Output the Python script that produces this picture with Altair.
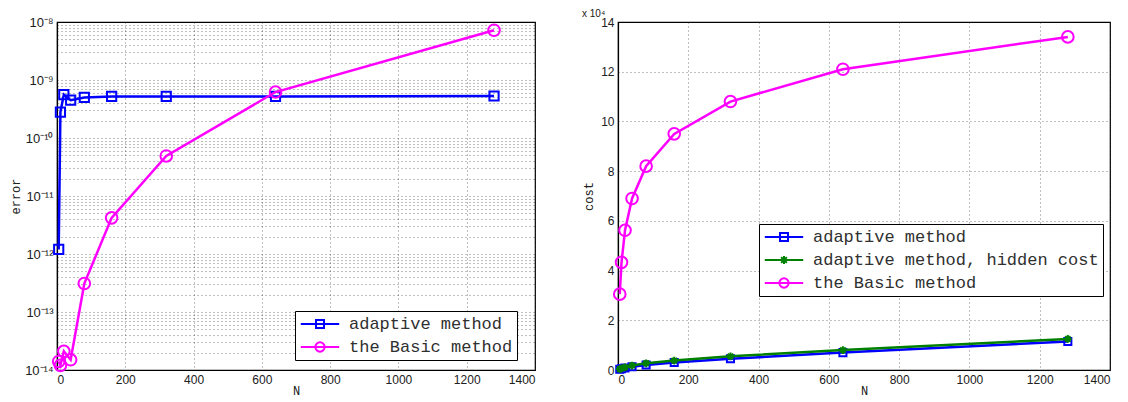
import altair as alt
import pandas as pd

# ---------------- data ----------------
N = [5, 10, 20, 40, 80, 160, 320, 640, 1280]

err_adaptive = [1.2e-12, 2.8e-10, 5.6e-10, 4.5e-10, 5.0e-10, 5.2e-10, 5.2e-10, 5.2e-10, 5.3e-10]
err_basic = [1.4e-14, 1.2e-14, 2.1e-14, 1.5e-14, 3.1e-13, 4.2e-12, 4.9e-11, 6.2e-10, 7.2e-9]

cost_adaptive = [300, 500, 800, 1300, 2000, 3000, 4500, 7000, 11500]
cost_hidden = [400, 700, 1100, 1800, 2700, 3800, 5500, 8000, 12500]
cost_basic = [30500, 43300, 56200, 69000, 82000, 95000, 108000, 121000, 134000]

left_series = ["adaptive method", "the Basic method"]
left_colors = ["#0000ff", "#ff00ff"]
right_series = ["adaptive method", "adaptive method, hidden cost", "the Basic method"]
right_colors = ["#0000ff", "#008000", "#ff00ff"]

x_ticks = [0, 200, 400, 600, 800, 1000, 1200, 1400]
err_decades = [1e-14, 1e-13, 1e-12, 1e-11, 1e-10, 1e-9, 1e-8]
err_decade_labels = ["10⁻¹⁴", "10⁻¹³", "10⁻¹²", "10⁻¹¹", "10⁻¹⁰", "10⁻⁹", "10⁻⁸"]
err_minor = [k * d for d in err_decades[:-1] for k in range(2, 10)]
cost_ticks = [0, 20000, 40000, 60000, 80000, 100000, 120000, 140000]
cost_tick_labels = ["0", "2", "4", "6", "8", "10", "12", "14"]

# ---------------- styles ----------------
MONO = "Liberation Mono"
SANS = "Liberation Sans"

# plot markers
SQUARE = "square"
CIRCLE = "circle"
ASTERISK = "M-1,0H1M0,-1V1M-0.7,-0.7L0.7,0.7M-0.7,0.7L0.7,-0.7"

# legend glyphs: a line segment with the marker on it (MATLAB style);
# symbol box is 16 px (size 256), so 1 unit = 8 px
LEG_SIZE = 256
LINE = "M-2.4,0H2.4"
SQ = "M-0.5,-0.5H0.5V0.5H-0.5Z"
CIR = "M0.58,0A0.58,0.58 0 1,1 -0.58,0A0.58,0.58 0 1,1 0.58,0Z"
AST = "M-0.5,0H0.5M0,-0.5V0.5M-0.36,-0.36L0.36,0.36M-0.36,0.36L0.36,-0.36"
left_legend_paths = [LINE + SQ, LINE + CIR]
right_legend_paths = [LINE + SQ, LINE + AST, LINE + CIR]


def nested_label_expr(values, labels, rel=1e-3, default="''"):
    parts = [f"abs(datum.value/{v!r} - 1) < {rel} ? '{lab}' : " for v, lab in zip(values, labels)]
    return "".join(parts) + default


def legend(x, y):
    return alt.Legend(
        title=None, orient="none", legendX=x, legendY=y,
        strokeColor="black", fillColor="white", padding=4,
        labelFont=MONO, labelFontSize=17, labelColor="#303030", labelLimit=500,
        symbolSize=LEG_SIZE, symbolStrokeWidth=2, symbolOffset=12,
        rowPadding=6, labelOffset=20,
    )


def x_enc():
    return alt.X("N:Q", scale=alt.Scale(domain=[0, 1400], nice=False, zero=False),
                 axis=alt.Axis(values=x_ticks, format="d", title="N", titleFont=MONO,
                               titleFontSize=12, titleFontWeight="normal", titlePadding=0,
                               labelPadding=4))


def series_layers(base, x, y, series, colors, shapes, sizes):
    layers = []
    for s, c, sh, sz in zip(series, colors, shapes, sizes):
        layers.append(base.mark_line(strokeWidth=2.5, color=c).encode(x=x, y=y)
                      .transform_filter(alt.datum.series == s))
        layers.append(base.mark_point(shape=sh, size=sz, filled=False, strokeWidth=2,
                                      color=c, opacity=1).encode(x=x, y=y)
                      .transform_filter(alt.datum.series == s))
    return layers


def legend_layer(base, x, y, series, colors, paths, lx, ly):
    return base.mark_point(filled=False, strokeWidth=2, opacity=1).encode(
        x=x, y=y,
        stroke=alt.Stroke("series:N", scale=alt.Scale(domain=series, range=colors),
                          legend=legend(lx, ly)),
        shape=alt.Shape("series:N", scale=alt.Scale(domain=series, range=paths),
                        legend=legend(lx, ly)),
    ).transform_filter("false")


# ---------------- left chart ----------------
df_left = pd.DataFrame({
    "N": N * 2,
    "value": err_adaptive + err_basic,
    "series": [left_series[0]] * len(N) + [left_series[1]] * len(N),
})

xl = x_enc()
yl = alt.Y("value:Q", scale=alt.Scale(type="log", domain=[1e-14, 1e-8], nice=False),
           axis=alt.Axis(values=err_decades + err_minor,
                         labelExpr=nested_label_expr(err_decades, err_decade_labels),
                         labelFontSize=13, labelPadding=4, minExtent=32, maxExtent=32,
                         title="error", titleFont=MONO, titleFontSize=12, titleFontWeight="normal",
                         titlePadding=3))

base_l = alt.Chart(df_left)
left = alt.layer(
    *series_layers(base_l, xl, yl, left_series, left_colors, [SQUARE, CIRCLE], [85, 135]),
    legend_layer(base_l, xl, yl, left_series, left_colors, left_legend_paths, 238, 289),
).properties(width=478, height=348)

# ---------------- right chart ----------------
df_right = pd.DataFrame({
    "N": N * 3,
    "value": cost_adaptive + cost_hidden + cost_basic,
    "series": [right_series[0]] * len(N) + [right_series[1]] * len(N) + [right_series[2]] * len(N),
})

xr = x_enc()
yr = alt.Y("value:Q", scale=alt.Scale(domain=[0, 140000], nice=False),
           axis=alt.Axis(values=cost_ticks,
                         labelExpr=nested_label_expr(cost_ticks[1:], cost_tick_labels[1:],
                                                     default=f"'{cost_tick_labels[0]}'"),
                         labelPadding=4, minExtent=20, maxExtent=20,
                         title="cost", titleFont=MONO, titleFontSize=12, titleFontWeight="normal",
                         titlePadding=3))

base_r = alt.Chart(df_right)
right = alt.layer(
    *series_layers(base_r, xr, yr, right_series, right_colors,
                   [SQUARE, ASTERISK, CIRCLE], [50, 60, 135]),
    legend_layer(base_r, xr, yr, right_series, right_colors, right_legend_paths, 141, 202),
).properties(
    width=492, height=348,
    title=alt.TitleParams("x 10⁴", anchor="start", fontSize=10, font=SANS,
                          fontWeight="normal", offset=-3, color="#202020"))

chart = alt.hconcat(left, right, spacing=83, bounds="flush").resolve_scale(
    shape="independent", stroke="independent", x="independent", y="independent"
).resolve_legend(
    shape="independent", stroke="independent"
).properties(
    padding={"left": 0, "top": 0, "right": 0, "bottom": 0}, background="white"
).configure_view(
    stroke="black", strokeWidth=1.2
).configure_axis(
    labelFont=SANS, labelFontSize=12, labelColor="#202020", titleColor="#202020",
    domainColor="black", domainWidth=1.2, ticks=False,
    grid=True, gridColor="#000000", gridDash=[1, 3], gridOpacity=0.5, gridWidth=1,
)

chart.save("out.html", embed_options={"renderer": "svg", "actions": False})
